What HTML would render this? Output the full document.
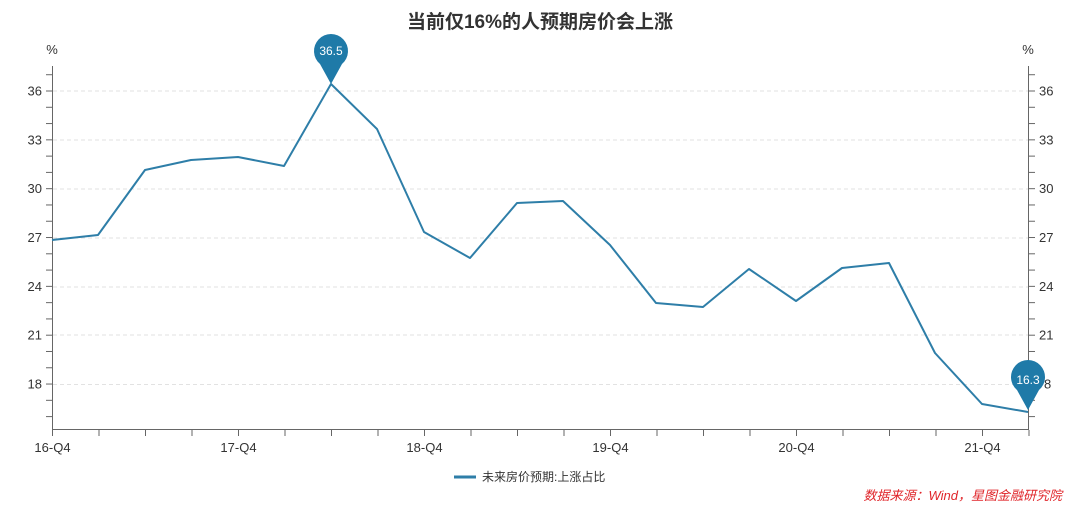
<!DOCTYPE html>
<html><head><meta charset="utf-8"><style>
body{margin:0;background:#fff;}
svg{display:block;font-family:"Liberation Sans","Noto Sans CJK SC",sans-serif;}
</style></head><body>
<svg width="1080" height="514" viewBox="0 0 1080 514">
<text x="540" y="28" text-anchor="middle" font-size="19" font-weight="bold" fill="#333">当前仅16%的人预期房价会上涨</text>
<text x="52" y="54" text-anchor="middle" font-size="13" fill="#333">%</text>
<text x="1028" y="54" text-anchor="middle" font-size="13" fill="#333">%</text>
<g stroke="#e2e2e2" stroke-dasharray="4,3" stroke-width="1">
<line x1="53" x2="1028" y1="91" y2="91"/><line x1="53" x2="1028" y1="140" y2="140"/>
<line x1="53" x2="1028" y1="189" y2="189"/><line x1="53" x2="1028" y1="238" y2="238"/>
<line x1="53" x2="1028" y1="287" y2="287"/><line x1="53" x2="1028" y1="335" y2="335"/>
<line x1="53" x2="1028" y1="384.5" y2="384.5"/>
</g>
<g stroke="#666" stroke-width="1">
<line x1="52.5" y1="66" x2="52.5" y2="430"/>
<line x1="1028.5" y1="66" x2="1028.5" y2="430"/>
<line x1="52" y1="429.5" x2="1029" y2="429.5"/>
</g>
<g id="ticks" stroke="#666" stroke-width="1"></g>
<g id="labels" font-size="13" fill="#333"></g>
<polyline fill="none" stroke="#2e7ea8" stroke-width="2" stroke-linejoin="round" points="52,240 98,235 145,170 191,160 238,157 284,166 331,84 377,129 424,232 470,258 517,203 563,201 610,245 656,303 703,307 749,269 796,301 842,268 889,263 935,353 982,404 1028,412"/>
<path d="M331,84 L320,64 A17,17 0 1 1 342,64 Z" fill="#1f7aa8"/>
<text x="331" y="55" text-anchor="middle" font-size="12" fill="#fff">36.5</text>
<path d="M1028,410 L1017,390 A17,17 0 1 1 1039,390 Z" fill="#1f7aa8"/>
<text x="1028" y="384" text-anchor="middle" font-size="12" fill="#fff">16.3</text>
<line x1="454" y1="477" x2="476" y2="477" stroke="#2e7ea8" stroke-width="3"/>
<text x="482" y="481" font-size="12" fill="#333">未来房价预期:上涨占比</text>
<text x="1062" y="500" text-anchor="end" font-size="13" font-style="italic" fill="#e0252a">数据来源：Wind，星图金融研究院</text>
</svg>
<script>
var t=document.getElementById('ticks'),l=document.getElementById('labels'),ns="http://www.w3.org/2000/svg";
function el(p,n,a,tx){var e=document.createElementNS(ns,n);for(var k in a)e.setAttribute(k,a[k]);if(tx)e.textContent=tx;p.appendChild(e);}
for(var v=16;v<=37;v++){var y=91+(36-v)*16.28;
 el(t,'line',{x1:46,x2:52.5,y1:y,y2:y});el(t,'line',{x1:1028.5,x2:1035,y1:y,y2:y});
 if(v%3==0){el(l,'text',{x:42,y:y+4.5,'text-anchor':'end'},''+v);if(v!=18)el(l,'text',{x:1039,y:y+4.5},''+v);else el(l,'text',{x:1044,y:y+4.5},'8');}}
for(var i=0;i<22;i++){var x=52.5+i*46.5;el(t,'line',{x1:x,x2:x,y1:430,y2:436});}
var lab=['16-Q4','17-Q4','18-Q4','19-Q4','20-Q4','21-Q4'];
for(var j=0;j<6;j++)el(l,'text',{x:52.5+j*186,y:452,'text-anchor':'middle'},lab[j]);
</script>
</body></html>
